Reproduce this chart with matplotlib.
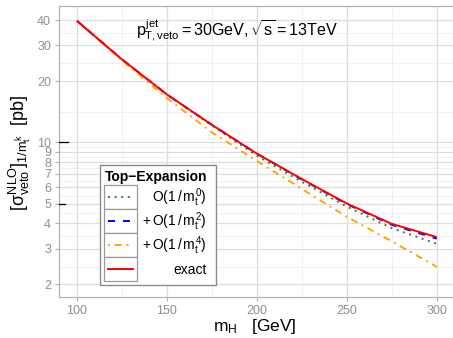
import matplotlib
matplotlib.use("Agg")
import matplotlib.pyplot as plt
from matplotlib.patches import Rectangle
from matplotlib.lines import Line2D
from matplotlib.ticker import FixedLocator, NullFormatter, FixedFormatter
import numpy as np

plt.rcParams["font.family"] = ["Liberation Sans", "DejaVu Sans"]
plt.rcParams["mathtext.fontset"] = "custom"
plt.rcParams["mathtext.rm"] = "Liberation Sans"
plt.rcParams["mathtext.it"] = "Liberation Sans"
plt.rcParams["mathtext.bf"] = "Liberation Sans:bold"
plt.rcParams["mathtext.sf"] = "Liberation Sans"

# Higgs mass points [GeV] and jet-vetoed NLO cross sections [pb]
m_higgs = [100, 125, 150, 175, 200, 225, 250, 275, 300]
sigma_o0 = [39.6, 25.6, 17.2, 12.1, 8.6, 6.4, 4.83, 3.78, 3.17]
sigma_o2 = [39.6, 25.6, 17.2, 12.2, 8.8, 6.57, 4.97, 3.93, 3.36]
sigma_o4 = [39.6, 25.3, 16.5, 11.2, 8.1, 5.9, 4.3, 3.26, 2.44]
sigma_exact = [39.6, 25.6, 17.2, 12.2, 8.8, 6.6, 5.0, 3.97, 3.42]

x_ticks = [100, 150, 200, 250, 300]
x_minor = [125, 175, 225, 275]
y_ticks = [2, 3, 4, 5, 6, 7, 8, 9, 10, 20, 30, 40]
y_labels = ["2", "3", "4", "5", "6", "7", "8", "9", "10", "20", "30", "40"]

legend_title = "Top\u2212Expansion"
legend_labels = [r"$O(1\,/\,m_t^0)$", r"$+\,O(1\,/\,m_t^2)$",
                 r"$+\,O(1\,/\,m_t^4)$", "exact"]

series_styles = [
    dict(color="#1E8B22", ls=(0, (1, 2.4))),
    dict(color="#0000FF", ls=(0, (3.6, 4.1))),
    dict(color="#FFA500", ls=(0, (1, 2.5, 3.5, 2.5))),
    dict(color="#FF0000", ls="-"),
]
series_values = [sigma_o0, sigma_o2, sigma_o4, sigma_exact]

W, H = 453, 338
fig = plt.figure(figsize=(W / 100, H / 100), dpi=100)
ax = fig.add_axes([59 / W, 1 - 296.7 / H, 395.8 / W, 290.7 / H])

ax.set_yscale("log")
ax.set_xlim(90, 310)
ax.set_ylim(1.74, 46.9)

# grid: minor lines at log-midpoints between breaks
y_minor = [np.sqrt(a * b) for a, b in zip(y_ticks[:-1], y_ticks[1:])]
for v in x_minor:
    ax.axvline(v, color="#EFEFEF", lw=0.6, zorder=0)
for v in y_minor:
    ax.axhline(v, color="#EFEFEF", lw=0.6, zorder=0)
for v in x_ticks:
    ax.axvline(v, color="#DEDEDE", lw=0.9, zorder=0)
for v in y_ticks:
    ax.axhline(v, color="#DEDEDE", lw=0.9, zorder=0)

for vals, st in zip(series_values, series_styles):
    ax.plot(m_higgs, vals, color=st["color"], linestyle=st["ls"], lw=1.4,
            solid_capstyle="butt", dash_capstyle="butt", zorder=3)

ax.xaxis.set_major_locator(FixedLocator(x_ticks))
ax.yaxis.set_major_locator(FixedLocator(y_ticks))
ax.yaxis.set_major_formatter(FixedFormatter(y_labels))
ax.yaxis.set_minor_locator(FixedLocator([]))
ax.yaxis.set_minor_formatter(NullFormatter())
ax.tick_params(axis="both", which="major", direction="out", length=3.2,
               width=0.8, color="#B3B3B3", labelcolor="#8F8F8F",
               labelsize=9, pad=2.5)
for s in ax.spines.values():
    s.set_color("#B3B3B3")
    s.set_linewidth(0.9)

# small marks at 5 and 10 just inside the left edge
ax.plot([90.2, 95.2], [10, 10], color="black", lw=0.9, zorder=4)
ax.plot([90.2, 93.3], [5, 5], color="black", lw=0.9, zorder=4)

ax.text(136 / W, 1 - 36.5 / H,
        r"$p^{\mathrm{jet}}_{\mathrm{T,veto}} = 30\mathrm{GeV}, \sqrt{s} = 13\mathrm{TeV}$",
        transform=fig.transFigure, fontsize=11.6, color="black",
        ha="left", va="baseline")

fig.text(255 / W, 1 - 326 / H, r"$m_H$   [GeV]", fontsize=12.5,
         ha="center", va="center", color="black")
fig.text(20 / W, 1 - 153 / H,
         r"$[\sigma^{NLO}_{veto}]_{1/m_t^k}$  [pb]",
         fontsize=13, rotation=90, ha="center", va="center", color="black")

# legend drawn in pixel space on an overlay
ov = fig.add_axes([0, 0, 1, 1], facecolor="none")
ov.set_xlim(0, W)
ov.set_ylim(H, 0)
ov.axis("off")
ov.add_patch(Rectangle((100, 164.7), 116, 120.3, facecolor="white",
                       edgecolor="#8A8A8A", lw=1.0, zorder=1))
ov.text(104.5, 176.5, legend_title, fontsize=10, fontweight="bold",
        ha="left", va="center", color="black", zorder=3)
row_top = 185.0
row_h = 24.0
for i, (lab, st) in enumerate(zip(legend_labels, series_styles)):
    y0 = row_top + i * row_h
    ov.add_patch(Rectangle((104.3, y0), 32.4, row_h, facecolor="white",
                           edgecolor="#9A9A9A", lw=0.9, zorder=2))
    yc = y0 + row_h / 2
    ov.add_line(Line2D([108.3, 133.3], [yc, yc], color=st["color"],
                       linestyle=st["ls"], lw=1.4, zorder=3,
                       dash_capstyle="butt"))
    ov.text(206.7, yc + 0.5, lab, fontsize=10, ha="right", va="center",
            color="black", zorder=3)

fig.savefig("out.png", dpi=100)
